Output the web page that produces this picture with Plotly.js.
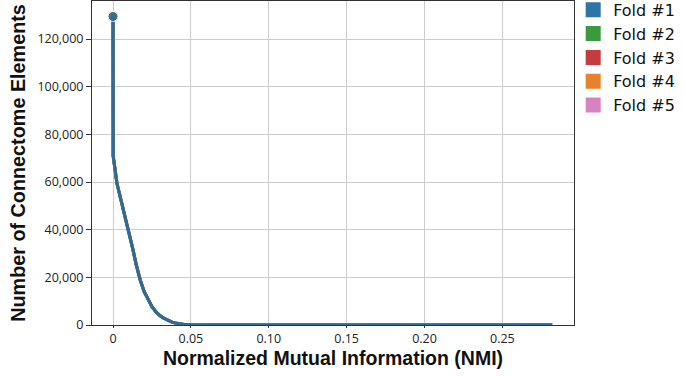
<!DOCTYPE html>
<html>
<head>
<meta charset="utf-8">
<script src="https://cdn.plot.ly/plotly-3.0.1.min.js"></script>
<style>
  html, body { margin: 0; padding: 0; background: #fff; }
  #chart { width: 684px; height: 376px; }
</style>
</head>
<body>
<div id="chart"></div>
<script>
// NMI thresholds and the number of connectome elements kept at each threshold
const nmi = [0, 0.0001, 0.0025, 0.005, 0.0075, 0.01, 0.0125, 0.015, 0.0175, 0.02,
             0.0225, 0.025, 0.0275, 0.03, 0.0325, 0.035, 0.0375, 0.04, 0.0425, 0.045,
             0.05, 0.055, 0.06, 0.08, 0.12, 0.16, 0.2, 0.24, 0.282];

const fold1 = [129500, 71000, 59500, 53000, 46500, 39500, 32500, 25000, 18800, 14000,
               10500, 7700, 5600, 4000, 2900, 2000, 1300, 800, 480, 280,
               90, 30, 10, 1, 0, 0, 0, 0, 0];
const fold2 = [129500, 70800, 59300, 52800, 46300, 39300, 32300, 24800, 18700, 13900,
               10400, 7600, 5500, 3950, 2850, 1950, 1280, 790, 470, 270,
               85, 28, 9, 1, 0, 0, 0, 0, 0];
const fold3 = [129500, 71200, 59700, 53200, 46700, 39700, 32700, 25200, 18900, 14100,
               10600, 7800, 5650, 4050, 2950, 2050, 1320, 810, 490, 290,
               95, 32, 11, 1, 0, 0, 0, 0, 0];
const fold4 = [129500, 70900, 59400, 52900, 46400, 39400, 32400, 24900, 18750, 13950,
               10450, 7650, 5550, 3980, 2880, 1980, 1290, 795, 475, 275,
               88, 29, 10, 1, 0, 0, 0, 0, 0];
const fold5 = [129500, 71100, 59600, 53100, 46600, 39600, 32600, 25100, 18850, 14050,
               10550, 7750, 5620, 4020, 2920, 2020, 1310, 805, 485, 285,
               92, 31, 10, 1, 0, 0, 0, 0, 0];

const foldNames = ['Fold #1', 'Fold #2', 'Fold #3', 'Fold #4', 'Fold #5'];
const foldValues = [fold1, fold2, fold3, fold4, fold5];
const lineColors = ['#2f6a9c', '#3a9a3e', '#c63c3e', '#e6822c', '#d783c1'];
const legendColors = ['#2f74a6', '#3a9a3e', '#c63c3e', '#e6822c', '#d783c1'];

const xTickVals = [0, 0.05, 0.10, 0.15, 0.20, 0.25];
const xTickText = ['0', '0.05', '0.10', '0.15', '0.20', '0.25'];
const yTickVals = [0, 20000, 40000, 60000, 80000, 100000, 120000];

const traces = [];

// curves: last fold drawn first so Fold #1 sits on top
for (let i = foldNames.length - 1; i >= 0; i--) {
  traces.push({
    type: 'scatter',
    mode: 'lines+markers',
    x: nmi,
    y: foldValues[i],
    name: foldNames[i],
    showlegend: false,
    line: { color: lineColors[i], width: 3 },
    marker: { color: lineColors[i], size: nmi.map((v, k) => k === 0 ? 10 : 0) },
    hoverinfo: 'x+y+name'
  });
}

// square legend swatches
foldNames.forEach((name, i) => {
  traces.push({
    type: 'scatter',
    mode: 'markers',
    x: [null],
    y: [null],
    name: name,
    marker: { symbol: 'square', size: 15, color: legendColors[i] },
    hoverinfo: 'skip'
  });
});

const layout = {
  width: 684,
  height: 376,
  margin: { l: 92, r: 110, t: 1, b: 51, autoexpand: false },
  paper_bgcolor: '#ffffff',
  plot_bgcolor: '#ffffff',
  font: { family: '"Open Sans", "Liberation Sans", sans-serif', color: '#222', size: 12 },
  showlegend: true,
  legend: {
    xref: 'container', yref: 'paper',
    x: 0.838, xanchor: 'left',
    y: 1.025, yanchor: 'top',
    font: { family: '"DejaVu Sans", sans-serif', size: 16, color: '#111' },
    bgcolor: 'rgba(0,0,0,0)',
    itemwidth: 30,
    tracegroupgap: 0
  },
  xaxis: {
    range: [-0.0135, 0.296],
    tickvals: xTickVals,
    ticktext: xTickText,
    showgrid: true,
    gridcolor: '#cccccc',
    gridwidth: 1,
    zeroline: false,
    showline: true,
    linecolor: '#333',
    linewidth: 1,
    mirror: true,
    ticks: 'outside',
    ticklen: 2,
    tickcolor: '#333',
    tickfont: { size: 12.5, color: '#222' },
    title: {
      text: 'Normalized Mutual Information (NMI)',
      font: { family: '"Liberation Sans", Arial, sans-serif', size: 19.5, color: '#111', weight: 'bold' },
      standoff: 0
    }
  },
  yaxis: {
    range: [0, 136000],
    tickvals: yTickVals,
    tickformat: ',',
    showgrid: true,
    gridcolor: '#cccccc',
    gridwidth: 1,
    zeroline: false,
    showline: true,
    linecolor: '#333',
    linewidth: 1,
    mirror: true,
    ticks: 'outside',
    ticklen: 5,
    tickcolor: '#333',
    tickfont: { size: 12.5, color: '#222' },
    title: {
      text: 'Number of Connectome Elements',
      font: { family: '"Liberation Sans", Arial, sans-serif', size: 19.8, color: '#111', weight: 'bold' },
      standoff: 6
    }
  }
};

Plotly.newPlot('chart', traces, layout, { displayModeBar: false, staticPlot: true });
</script>
</body>
</html>
